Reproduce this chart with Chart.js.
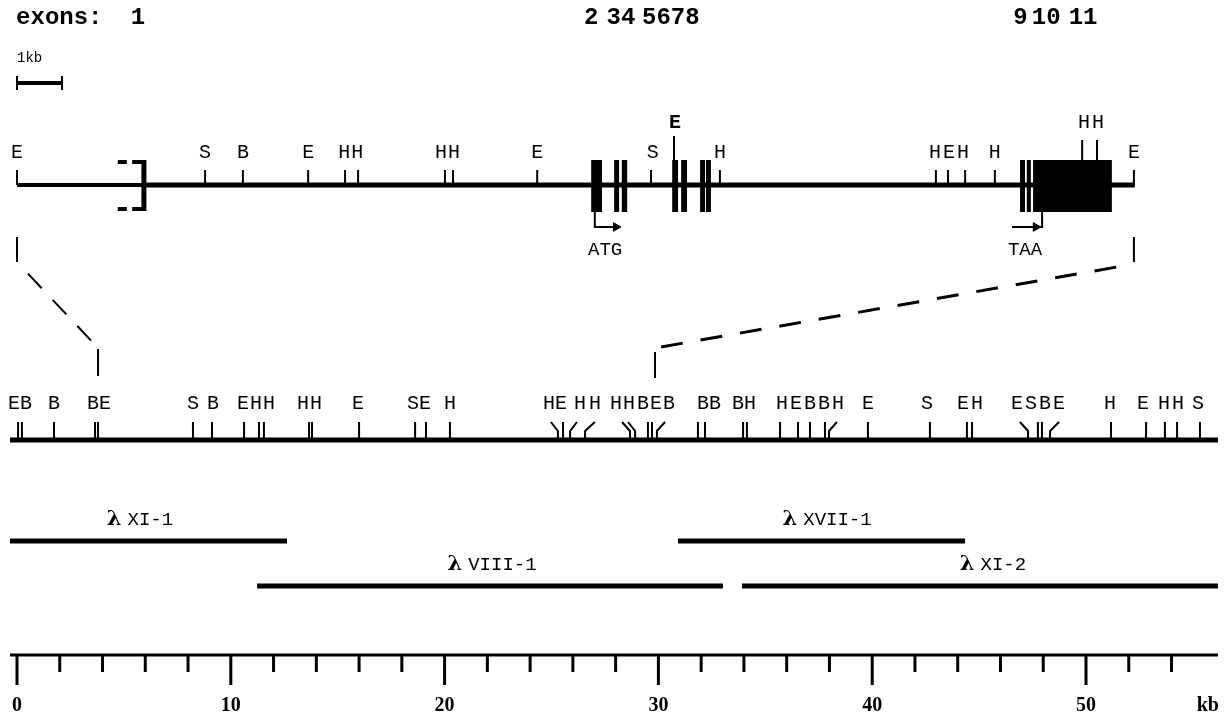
<!DOCTYPE html>
<html><head><meta charset="utf-8">
<script src="https://cdn.jsdelivr.net/npm/chart.js@4.4.1/dist/chart.umd.min.js"></script>
<style>html,body{margin:0;padding:0;background:#fff}canvas{display:block}</style>
</head><body>
<canvas id="c" width="1226" height="717"></canvas>
<script>
// ================= DATA =================
// --- top gene map (kb, detailed scale) ---
const topSites   = [0, 4.18, 5.02, 6.47, 7.29, 7.58, 9.51, 9.69, 11.56, 14.09, 15.62, 20.42, 20.69, 21.07, 21.73, 24.82];
const topLetters = ["E","S","B","E","H","H","H","H","E","S","H","H","E","H","H","E"];
const topLabelKb = [0, 4.18, 5.02, 6.47, 7.27, 7.56, 9.42, 9.71, 11.56, 14.13, 15.62, 20.40, 20.71, 21.02, 21.73, 24.82];
// sites labelled in the upper row (above exons)
const topUpperSites   = [14.60, 23.67, 24.00];
const topUpperLetters = ["E","H","H"];
const topUpperLabelKb = [14.62, 23.71, 24.02];
// exons (start/end kb on detailed scale)
const exonStart = [12.76, 13.27, 13.44, 14.56, 14.76, 15.18, 15.31, 22.29, 22.44, 22.58];
const exonEnd   = [13.00, 13.38, 13.56, 14.69, 14.89, 15.29, 15.42, 22.40, 22.53, 24.33];
const exonLabels   = ["1","2","34","5678","9","10","11"];
const exonLabelKb  = [2.69, 12.76, 13.42, 14.53, 22.30, 22.87, 23.69];
const startCodonKb = 12.84, stopCodonKb = 22.78;

// --- restriction map (kb, bottom scale) ---
const mapSites = [0.05,0.23,1.73,3.65,3.79,8.23,9.12,10.62,11.32,11.55,13.66,13.80,16.0,18.62,19.13,20.25,
  25.30,25.54,25.87,26.57,28.67,28.91,29.51,29.70,29.93,31.85,32.18,33.96,34.14,35.69,36.53,37.09,37.79,37.98,
  39.80,42.70,44.43,44.67,47.29,47.75,47.94,48.32,51.17,52.81,53.69,54.26,55.33];
const mapLetters = "E B B B E S B E H H H H E S E H H E H H H H B E B B B B H H E B B H E S E H E S B E H E H H S".split(" ");
const mapLabelKb = [-0.14,0.42,1.73,3.55,4.12,8.23,9.17,10.57,11.18,11.79,13.38,13.98,15.95,18.52,19.08,20.25,
  24.88,25.44,26.33,27.03,28.02,28.62,29.28,29.89,30.50,32.09,32.65,33.72,34.28,35.78,36.44,37.09,37.75,38.40,
  39.80,42.56,44.25,44.90,46.77,47.43,48.08,48.74,51.12,52.67,53.65,54.30,55.24];
// crowded sites whose tick bends toward its label (tick top kb), null = straight
const mapTickTopKb = [null,null,null,null,null,null,null,null,null,null,null,null,null,null,null,null,
  24.97,null,26.19,27.03,28.30,28.58,null,null,30.31,null,null,null,null,null,null,null,null,38.35,
  null,null,null,null,46.91,null,null,48.74,null,null,null,null,null];
const mapStartKb = -0.33, mapEndKb = 56.17;
// zoomed region correspondence
const zoomTopStart = 0, zoomTopEnd = 24.82, zoomMapStart = 3.79, zoomMapEnd = 29.84;

// --- lambda clones ---
const cloneNames   = ["XI-1","XVII-1","VIII-1","XI-2"];
const cloneStart   = [-0.33, 30.92, 11.23, 33.91];
const cloneEnd     = [12.63, 44.34, 33.02, 56.17];
const cloneRow     = [0, 0, 1, 1];
const cloneLabelKb = [5.75, 37.89, 22.22, 45.65];

// --- bottom kb axis ---
const axisTicks  = [0,2,4,6,8,10,12,14,16,18,20,22,24,26,28,30,32,34,36,38,40,42,44,46,48,50,52,54];
const axisLabels = ["0","10","20","30","40","50"];
const axisLabelKb = [0,10,20,30,40,50];

// ================= LAYOUT =================
const W = 1226, H = 717, ORIGIN = 17, PX_MAP = 21.38, PX_TOP = 45;
const toMap = k => k * PX_TOP / PX_MAP;   // detailed-scale kb -> map-scale kb (same origin)
const Y = {title:18, kbText:58, bar:83, topUpperLbl:123, topLbl:153, topLine:185, exonMid:186, arrow:227, codon:250,
  mapLbl:404, mapLine:440, cloneLbl:[520,565], clone:[541,586], axis:655, axisLbl:706};

function segs(list){
  const d=[];
  list.forEach((s,i)=>{ if(i) d.push({x:s[0][0], y:null}); s.forEach(p=>d.push({x:p[0], y:p[1]})); });
  return d;
}
function ds(data, width, axis, extra){
  return Object.assign({data, xAxisID: axis||'x', yAxisID:'y', showLine:true, borderColor:'#000',
    backgroundColor:'#000', borderWidth:width, pointRadius:0, spanGaps:false, tension:0,
    borderCapStyle:'butt', borderJoinStyle:'miter', fill:false}, extra||{});
}

const datasets = [];
// top map line
datasets.push(ds(segs([[[0,Y.topLine],[2.82,Y.topLine]]]), 4, 'xTop'));
datasets.push(ds(segs([[[2.82,Y.topLine],[topSites[topSites.length-1]+0.02,Y.topLine]]]), 5, 'xTop'));
// top ticks
datasets.push(ds(segs(topSites.map(s=>[[s,170],[s,Y.topLine]])), 2, 'xTop'));
datasets.push(ds(segs([[[topUpperSites[0],136],[topUpperSites[0],Y.topLine]],
  [[topUpperSites[1],140],[topUpperSites[1],160]],[[topUpperSites[2],140],[topUpperSites[2],160]]]), 2, 'xTop'));
// bracket
datasets.push(ds(segs([[[2.56,162],[2.86,162]],[[2.56,209],[2.86,209]],[[2.24,162],[2.44,162]],[[2.24,209],[2.44,209]]]), 4, 'xTop'));
datasets.push(ds(segs([[[2.82,160],[2.82,211]]]), 5, 'xTop'));
// exons
datasets.push(ds(segs(exonStart.map((s,i)=>[[s,Y.exonMid],[exonEnd[i],Y.exonMid]])), 52, 'xTop'));
// codon arrows
datasets.push(ds(segs([[[startCodonKb,212],[startCodonKb,Y.arrow],[startCodonKb+0.5,Y.arrow]],
  [[stopCodonKb,212],[stopCodonKb,Y.arrow],[stopCodonKb-0.67,Y.arrow]]]), 2, 'xTop'));
datasets.push({data:[{x:startCodonKb+0.47,y:Y.arrow},{x:stopCodonKb-0.14,y:Y.arrow}], xAxisID:'xTop', yAxisID:'y',
  showLine:false, pointStyle:'triangle', rotation:90, pointRadius:5, backgroundColor:'#000', borderColor:'#000', borderWidth:1});
// 1 kb scale bar
datasets.push(ds(segs([[[0,Y.bar],[1,Y.bar]]]), 4, 'xTop'));
datasets.push(ds(segs([[[0,76],[0,90]],[[1,76],[1,90]]]), 2, 'xTop'));
// zoom connectors
datasets.push(ds(segs([[[zoomTopStart,237],[zoomTopStart,262]],[[zoomTopEnd,237],[zoomTopEnd,262]]]), 2, 'xTop'));
datasets.push(ds(segs([[[zoomMapStart,349],[zoomMapStart,376]],[[zoomMapEnd,352],[zoomMapEnd,378]]]), 2, 'x'));
datasets.push(ds(segs([[[toMap(zoomTopStart),262],[zoomMapStart,348]]]), 2, 'x', {borderDash:[20,16], borderDashOffset:20}));
datasets.push(ds(segs([[[toMap(zoomTopEnd),264],[zoomMapEnd,348]]]), 3, 'x', {borderDash:[22,18], borderDashOffset:22}));
// restriction map line + ticks
datasets.push(ds(segs([[[mapStartKb,Y.mapLine],[mapEndKb,Y.mapLine]]]), 5, 'x'));
datasets.push(ds(segs(mapSites.map((s,i)=> mapTickTopKb[i]===null ? [[s,422],[s,Y.mapLine]]
  : [[mapTickTopKb[i],422],[s,431],[s,Y.mapLine]])), 2, 'x'));
// clones
datasets.push(ds(segs(cloneNames.map((n,i)=>[[cloneStart[i],Y.clone[cloneRow[i]]],[cloneEnd[i],Y.clone[cloneRow[i]]]])), 5, 'x'));
// axis
datasets.push(ds(segs([[[mapStartKb,Y.axis],[mapEndKb,Y.axis]]]), 3, 'x'));
datasets.push(ds(segs(axisTicks.map(k=>[[k,Y.axis],[k, k%10===0 ? 685 : 672]])), 3, 'x'));

const MONO = '"Liberation Mono", "DejaVu Sans Mono", monospace';
const textPlugin = {
  id:'texts',
  afterDatasetsDraw(chart){
    const ctx=chart.ctx, x=chart.scales.x, xt=chart.scales.xTop, y=chart.scales.y;
    ctx.save();
    ctx.fillStyle='#000'; ctx.textBaseline='middle';
    const put=(s, px, py, font, align)=>{ctx.font=font; ctx.textAlign=align||'center'; ctx.fillText(s, px, y.getPixelForValue(py));};
    put('exons:', xt.getPixelForValue(-0.02), Y.title, 'bold 24px '+MONO, 'left');
    exonLabels.forEach((l,i)=>put(l, xt.getPixelForValue(exonLabelKb[i]), Y.title, 'bold 24px '+MONO));
    put('1kb', xt.getPixelForValue(0), Y.kbText, '14px '+MONO, 'left');
    topLetters.forEach((l,i)=>put(l, xt.getPixelForValue(topLabelKb[i]), Y.topLbl, '20px '+MONO));
    topUpperLetters.forEach((l,i)=>put(l, xt.getPixelForValue(topUpperLabelKb[i]), Y.topUpperLbl, (i===0?'bold ':'')+'20px '+MONO));
    put('ATG', xt.getPixelForValue(startCodonKb+0.23), Y.codon, '19px '+MONO);
    put('TAA', xt.getPixelForValue(stopCodonKb-0.38), Y.codon, '19px '+MONO);
    mapLetters.forEach((l,i)=>put(l, x.getPixelForValue(mapLabelKb[i]), Y.mapLbl, '20px '+MONO));
    cloneNames.forEach((n,i)=>{
      const cx = x.getPixelForValue(cloneLabelKb[i]), cy = Y.cloneLbl[cloneRow[i]];
      ctx.font='bold 21px "DejaVu Serif", serif'; const wl=ctx.measureText('λ').width;
      ctx.font='19px '+MONO; const wr=ctx.measureText(n).width;
      const total = wl + 6 + wr, left = cx - total/2;
      put('λ', left, cy, 'bold 21px "DejaVu Serif", serif', 'left');
      put(n, left+wl+6, cy, '19px '+MONO, 'left');
    });
    axisLabels.forEach((l,i)=>put(l, x.getPixelForValue(axisLabelKb[i]), Y.axisLbl, 'bold 20px "Liberation Serif", serif'));
    put('kb', x.getPixelForValue(55.7), Y.axisLbl, 'bold 20px "Liberation Serif", serif');
    ctx.restore();
  }
};

new Chart(document.getElementById('c'), {
  type:'scatter',
  data:{datasets},
  options:{
    responsive:false, animation:false, devicePixelRatio:1,
    layout:{padding:0, autoPadding:false},
    plugins:{legend:{display:false}, tooltip:{enabled:false}, title:{display:false}},
    events:[],
    scales:{
      x:{type:'linear', display:false, min:-ORIGIN/PX_MAP, max:(W-ORIGIN)/PX_MAP},
      xTop:{type:'linear', display:false, min:-ORIGIN/PX_TOP, max:(W-ORIGIN)/PX_TOP},
      y:{type:'linear', display:false, min:0, max:H, reverse:true}
    }
  },
  plugins:[textPlugin]
});
</script>
</body></html>
